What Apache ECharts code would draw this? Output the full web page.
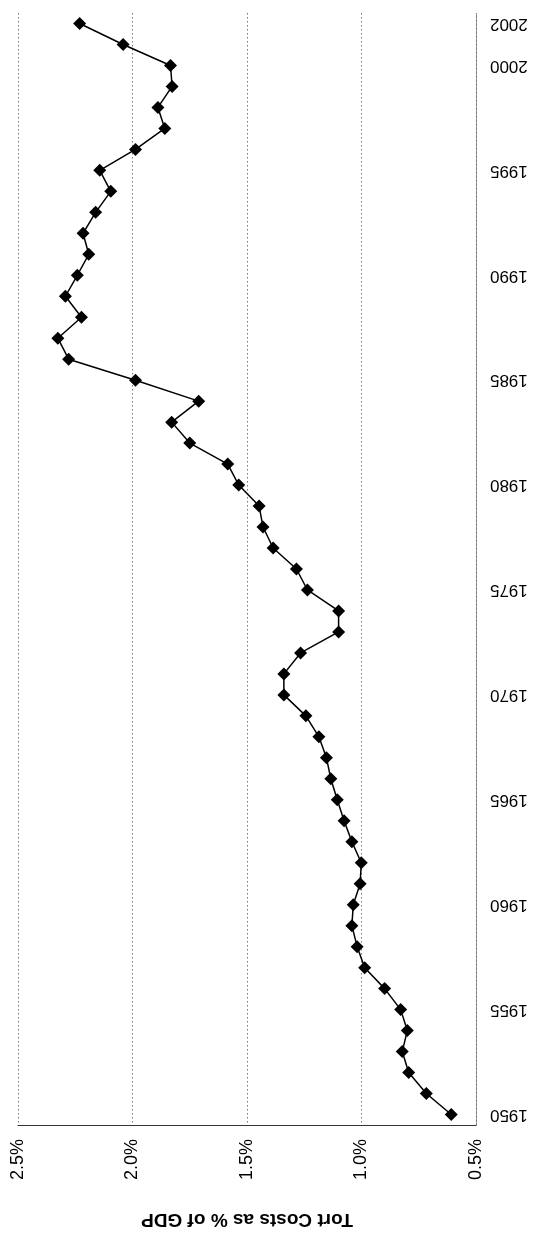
<!DOCTYPE html>
<html>
<head>
<meta charset="utf-8">
<script src="https://cdn.jsdelivr.net/npm/echarts@6/dist/echarts.min.js"></script>
<style>html,body{margin:0;padding:0;background:#fff;}#c{width:538px;height:1234px;}</style>
</head>
<body>
<div id="c"></div>
<script>
var years = [];
for (var y = 1950; y <= 2002; y++) years.push(String(y));
var tortCosts = [
  0.608, 0.717, 0.794, 0.822, 0.800, 0.829, 0.899, 0.986, 1.019, 1.042,
  1.036, 1.006, 1.001, 1.042, 1.076, 1.106, 1.134, 1.153, 1.186, 1.243,
  1.339, 1.339, 1.266, 1.100, 1.100, 1.236, 1.284, 1.386, 1.430, 1.447,
  1.536, 1.584, 1.750, 1.829, 1.711, 1.987, 2.279, 2.326, 2.223, 2.293,
  2.241, 2.191, 2.216, 2.161, 2.095, 2.143, 1.987, 1.859, 1.889, 1.827,
  1.834, 2.041, 2.231
];
var percentTicks = [0.5, 1.0, 1.5, 2.0, 2.5];
var axisTitle = 'Tort Costs as % of GDP';

var chart = echarts.init(document.getElementById('c'));
chart.setOption({
  animation: false,
  backgroundColor: '#fff',
  textStyle: { fontFamily: 'Liberation Sans, Arial, sans-serif' },
  grid: { left: 18, right: 62, top: 13, bottom: 101, containLabel: false },
  xAxis: {
    type: 'value',
    inverse: true,
    min: percentTicks[0],
    max: percentTicks[percentTicks.length - 1],
    interval: 0.5,
    position: 'bottom',
    axisLine: { show: true, lineStyle: { color: '#333', width: 1.2 } },
    axisTick: { show: false },
    splitLine: { show: true, lineStyle: { color: '#777', type: [1.5, 2.5], width: 1 } },
    axisLabel: {
      rotate: 90,
      margin: 14,
      fontSize: 18,
      color: '#000',
      formatter: function (v) { return v.toFixed(1) + '%'; }
    },
    name: axisTitle,
    nameLocation: 'middle',
    nameRotate: 180,
    nameGap: 85,
    nameTextStyle: { fontSize: 19, fontWeight: 'bold', color: '#000' }
  },
  yAxis: {
    type: 'category',
    data: years,
    position: 'right',
    boundaryGap: true,
    axisLine: { show: true, lineStyle: { color: '#777', type: [1.5, 2.5], width: 1 } },
    axisTick: { show: false },
    splitLine: { show: false },
    axisLabel: {
      rotate: 180,
      margin: 14,
      fontSize: 17,
      color: '#000',
      interval: function (i, v) { var n = +v; return (n - 1950) % 5 === 0 || n === 2002; }
    }
  },
  series: [{
    type: 'line',
    data: tortCosts,
    symbol: 'diamond',
    symbolSize: 13,
    itemStyle: { color: '#000' },
    lineStyle: { color: '#000', width: 1.5 }
  }]
});
</script>
</body>
</html>
